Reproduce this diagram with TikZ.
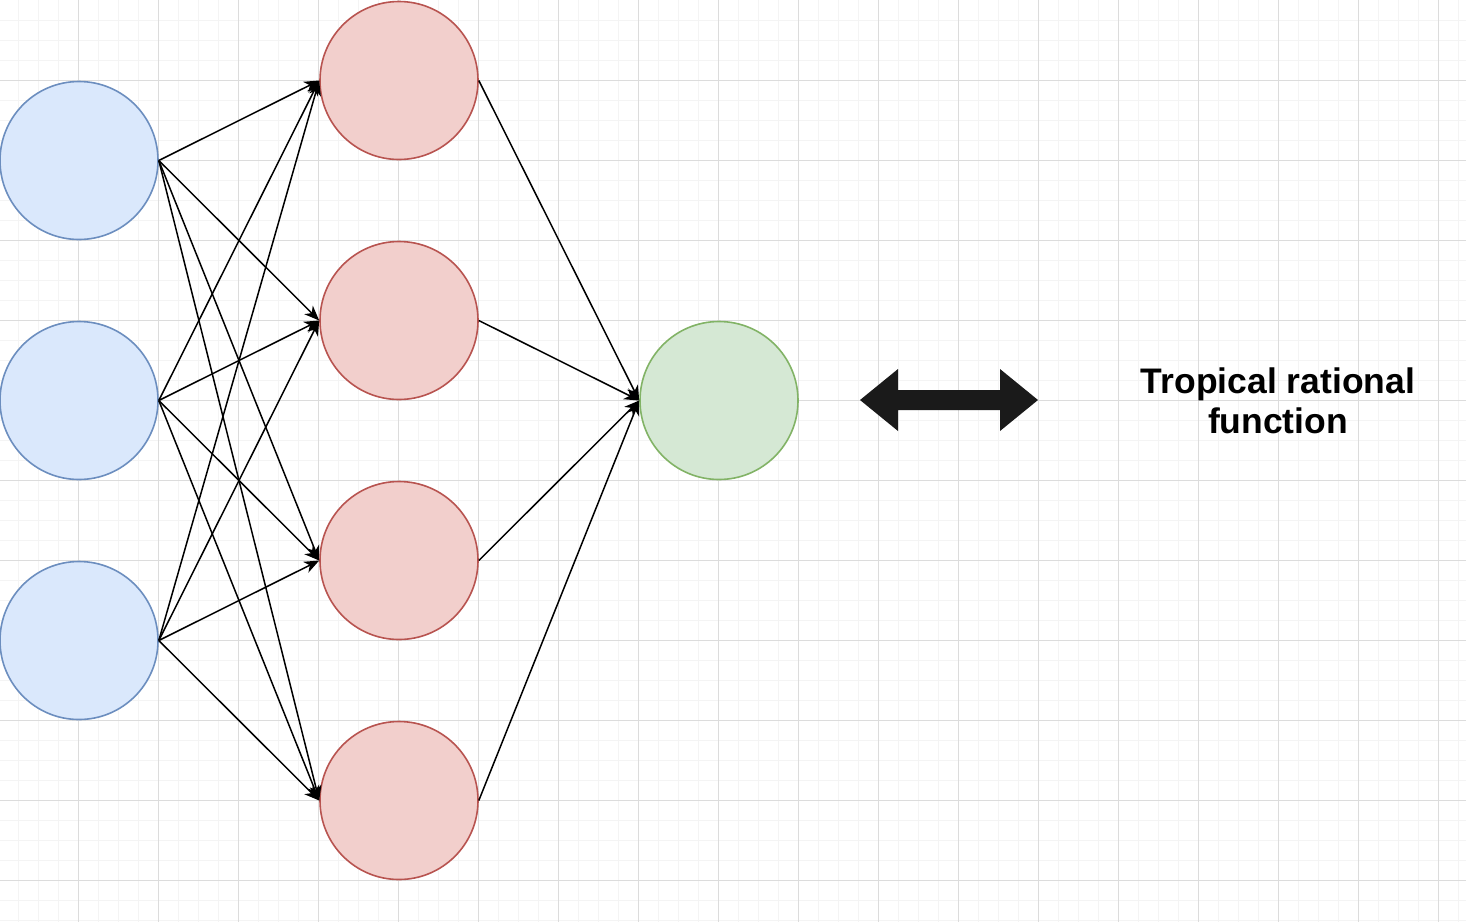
\documentclass[tikz,border=0pt]{standalone}
\usepackage{fontspec}
\setmainfont{Liberation Sans}
\usetikzlibrary{arrows.meta}

\definecolor{inFill}{HTML}{DAE8FC}
\definecolor{inLine}{HTML}{6C8EBF}
\definecolor{hidFill}{HTML}{F2CFCC}
\definecolor{hidLine}{HTML}{B85450}
\definecolor{outFill}{HTML}{D5E8D4}
\definecolor{outLine}{HTML}{82B366}
\definecolor{minorGrid}{HTML}{F4F4F4}
\definecolor{majorGrid}{HTML}{DCDCDC}
\definecolor{blockDark}{HTML}{1A1A1A}

\tikzset{
  minorline/.style={draw=minorGrid, line width=1pt},
  majorline/.style={draw=majorGrid, line width=1pt},
  neuron/.style={circle, inner sep=0pt, minimum size=158pt, line width=1.6pt},
  inneuron/.style={neuron, draw=inLine, fill=inFill},
  hidneuron/.style={neuron, draw=hidLine, fill=hidFill},
  outneuron/.style={neuron, draw=outLine, fill=outFill},
  link/.style={draw=black, line width=1.5pt,
    -{Stealth[length=15pt, width=12pt, inset=4.5pt]}},
  labeltext/.style={inner sep=0pt, align=center,
    font=\fontsize{35.5}{40}\selectfont\bfseries}
}

\begin{document}
\begin{tikzpicture}[x=1pt, y=-1pt]
\useasboundingbox (0,0) rectangle (1466,922);
\fill[white] (0,0) rectangle (1466,922);

% background grid
\foreach \x in {18,38,...,1458} \draw[minorline] (\x,0) -- (\x,922);
\foreach \y in {20,40,...,920} \draw[minorline] (0,\y) -- (1466,\y);
\foreach \x in {78,158,...,1438} \draw[majorline] (\x,0) -- (\x,922);
\foreach \y in {80,160,...,880} \draw[majorline] (0,\y) -- (1466,\y);

% input layer
\node[inneuron] (i1) at (79,160.5) {};
\node[inneuron] (i2) at (79,400.5) {};
\node[inneuron] (i3) at (79,640.5) {};

% hidden layer
\node[hidneuron] (h1) at (399,80.5) {};
\node[hidneuron] (h2) at (399,320.5) {};
\node[hidneuron] (h3) at (399,560.5) {};
\node[hidneuron] (h4) at (399,800.5) {};

% output
\node[outneuron] (o) at (719,400.5) {};

% fully connected input -> hidden
\foreach \i in {1,2,3}
  \foreach \h in {1,2,3,4}
    \draw[link] (i\i.east) -- (h\h.west);

% hidden -> output
\foreach \h in {1,2,3,4}
  \draw[link] (h\h.east) -- (o.west);

% equivalence double arrow
\fill[blockDark] (860,400) -- (898,369) -- (898,390) -- (1000,390) -- (1000,369)
  -- (1038,400) -- (1000,431) -- (1000,410) -- (898,410) -- (898,431) -- cycle;

\node[labeltext] (lbl) at (1278,401) {Tropical rational\\function};
\end{tikzpicture}
\end{document}
